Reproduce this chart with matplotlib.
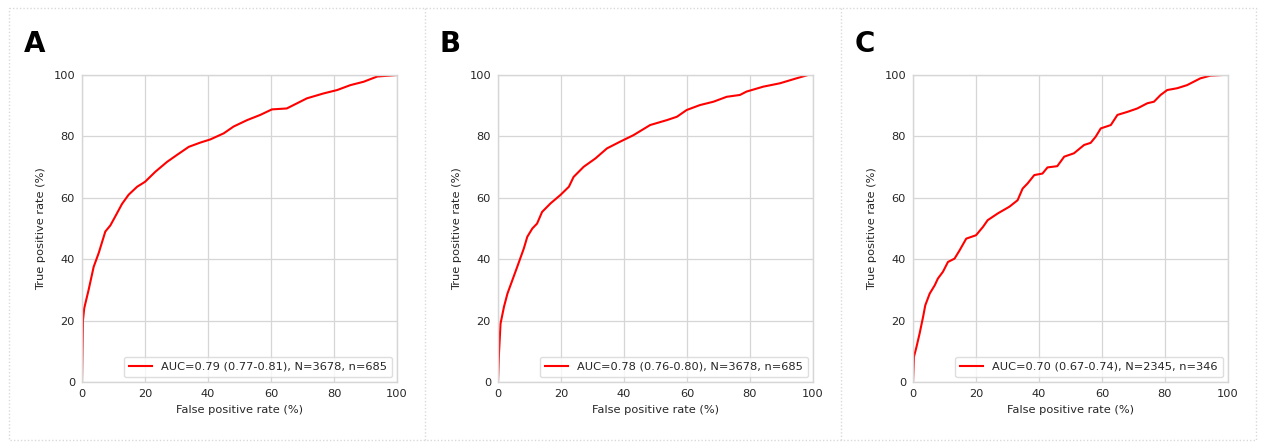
import numpy as np
import matplotlib
matplotlib.use("Agg")
import matplotlib.pyplot as plt
from matplotlib.lines import Line2D

# ROC curves (false positive rate %, true positive rate %)
fpr_a = [0, 0.3, 0.7, 2.1, 3.7, 5.3, 7.4, 9, 10.6, 12.7, 14.8, 17.5, 20, 23.3, 27, 30.2,
         33.9, 37.6, 40.7, 45, 48.1, 52.4, 56.6, 60.3, 65, 68.3, 71.4, 76.7, 81, 85.2,
         89.4, 93.7, 100]
tpr_a = [0, 20, 24, 30, 37.5, 42, 49, 51, 54, 58, 61, 63.6, 65.2, 68.5, 71.7, 74,
         76.6, 78, 79, 81, 83.2, 85.3, 87, 88.8, 89.1, 90.8, 92.4, 94, 95.1, 96.7,
         97.8, 99.5, 100]

fpr_b = [0, 0.3, 0.8, 1.9, 3, 4.5, 6.1, 8.2, 9.3, 10.9, 12.4, 14, 16.7, 19.8, 22.5, 24,
         27.2, 30.9, 34.6, 38.8, 43, 48.3, 53.6, 56.8, 59.9, 64.1, 68.4, 72.6, 76.8,
         78.9, 84.2, 89.5, 94.7, 98.4]
tpr_b = [0, 9, 19, 24.5, 28.8, 33, 37.5, 43.5, 47.3, 50, 51.6, 55.4, 58.2, 60.9, 63.6, 66.8,
         70.1, 72.8, 76.1, 78.3, 80.4, 83.7, 85.3, 86.4, 88.6, 90.2, 91.3, 92.9, 93.5,
         94.6, 96.2, 97.3, 98.9, 100]

fpr_c = [0, 0.3, 1.1, 2.1, 3.2, 3.9, 5.3, 6.9, 7.9, 9.5, 11.1, 13.2, 14.8, 16.9, 20, 22.2,
         23.7, 26.9, 30.6, 33.2, 34.8, 36.4, 38.5, 41.1, 42.7, 45.8, 48, 51.1, 54.3, 56.4,
         58, 59.6, 62.8, 64.9, 68.1, 71.2, 74.4, 76.5, 78.6, 80.7, 83.9, 87, 91.2, 94.4, 98.1]
tpr_c = [0, 8.2, 11.4, 15.8, 21.2, 25, 28.8, 31.5, 33.7, 35.9, 39.1, 40.2, 42.9, 46.7, 47.8, 50.5,
         52.7, 54.9, 57.1, 59.2, 63, 64.7, 67.4, 67.9, 69.9, 70.3, 73.4, 74.5, 77.2, 77.9,
         79.9, 82.6, 83.7, 87, 88, 89.1, 90.8, 91.3, 93.5, 95.1, 95.7, 96.7, 98.9, 99.8, 100]

panel_letters = ["A", "B", "C"]
legend_labels = ["AUC=0.79 (0.77-0.81), N=3678, n=685",
                 "AUC=0.78 (0.76-0.80), N=3678, n=685",
                 "AUC=0.70 (0.67-0.74), N=2345, n=346"]
ticks = [0, 20, 40, 60, 80, 100]

plt.rcParams["font.family"] = "DejaVu Sans"
plt.rcParams["text.color"] = "0.15"
plt.rcParams["xtick.color"] = "0.15"
plt.rcParams["ytick.color"] = "0.15"
plt.rcParams["axes.labelcolor"] = "0.15"

fs = 8.2
fig = plt.figure(figsize=(12.61, 4.44), dpi=100)

curves = [(fpr_a, tpr_a), (fpr_b, tpr_b), (fpr_c, tpr_c)]
lefts = [82, 498, 913]
for i, (fpr, tpr) in enumerate(curves):
    ax = fig.add_axes([lefts[i] / 1261, 62 / 444, 315 / 1261, 307 / 444])
    ax.plot(fpr, tpr, color="red", lw=1.5, label=legend_labels[i])
    ax.set_xlim(0, 100)
    ax.set_ylim(0, 100)
    ax.set_xticks(ticks)
    ax.set_yticks(ticks)
    ax.tick_params(labelsize=fs, length=0, pad=5)
    ax.grid(True, color="0.84", lw=0.9)
    ax.set_axisbelow(True)
    for s in ax.spines.values():
        s.set_color("0.84")
        s.set_linewidth(1.0)
    ax.set_xlabel("False positive rate (%)", fontsize=fs, labelpad=4)
    ax.set_ylabel("True positive rate (%)", fontsize=fs, labelpad=5)
    leg = ax.legend(loc="lower right", fontsize=fs, frameon=True, fancybox=True,
                    handlelength=2.0, borderpad=0.45, borderaxespad=0.45)
    leg.get_frame().set_edgecolor("0.84")
    fig.text((lefts[i] - 58) / 1261, 1 - 52 / 444, panel_letters[i],
             fontsize=20, fontweight="bold", color="black")

# dotted panel borders
dot = dict(color="0.85", lw=1.0, ls=(0, (1, 1.5)), transform=fig.transFigure)
x0, x1, y0, y1 = 9 / 1261, 1256 / 1261, 1 - 440 / 444, 1 - 8 / 444
fig.add_artist(Line2D([x0, x1, x1, x0, x0], [y1, y1, y0, y0, y1], **dot))
for xs in [425, 841]:
    fig.add_artist(Line2D([xs / 1261, xs / 1261], [y0, y1], **dot))

fig.savefig("out.png", dpi=100)
